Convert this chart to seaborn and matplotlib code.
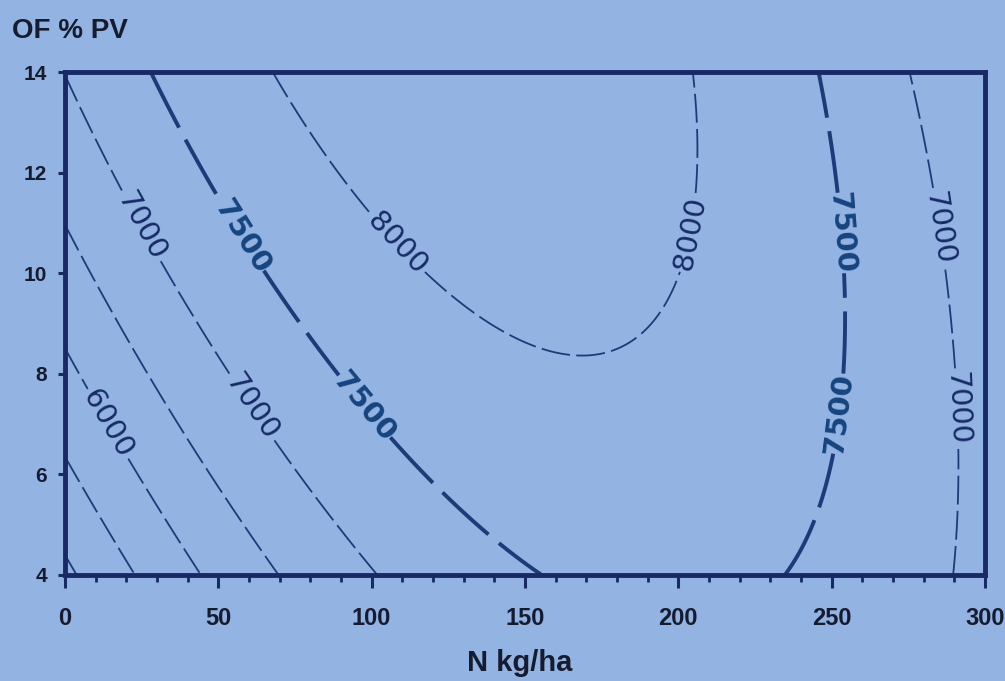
import numpy as np
import pandas as pd
import matplotlib
matplotlib.use("Agg")
import matplotlib.pyplot as plt
import seaborn as sns

# ---- values (N kg/ha, OF % PV) on each yield contour ----
levels = [5000, 5500, 6000, 6500, 7000, 7500, 8000]

l8000_n = [68, 81, 97, 110, 123, 139, 148, 166.5, 185, 196, 204, 206, 205.5]
l8000_f = [14, 12.8, 11.5, 10.7, 9.9, 9.2, 8.9, 8.57, 8.9, 9.67, 10.8, 12.1, 14]

l7500_n = [28.5, 37.7, 57, 75, 80, 96.7, 104, 112, 120.6, 126, 141.6, 156.7,
           233.4, 246.5, 248.5, 253, 256, 256, 253, 251, 247.5]
l7500_f = [13.9, 12.8, 10.7, 9.2, 8.8, 7.3, 6.7, 6.35, 5.85, 5.5, 4.75, 4.0,
           4.0, 5.35, 5.75, 7.2, 8.8, 9.1, 10.8, 12.9, 14]

l7000_n = [0, 10.5, 15.7, 23.6, 37.7, 45, 60, 73, 82.6, 87, 100.6,
           290, 291, 289, 290, 289, 284.6, 282.6, 277]
l7000_f = [14, 12.65, 12, 10.9, 9.5, 8.8, 7.3, 6.35, 5.5, 5.1, 4,
           4, 5.35, 7.3, 9.1, 9.5, 10.9, 12.25, 14]

l6500_n = [0, 15.7, 19.7, 37.7, 42.6, 48.5, 52, 68, 298, 300]
l6500_f = [10.9, 9.1, 8.8, 6.9, 6.4, 5.85, 5.5, 4, 14, 13.6]

l6000_n = [0, 5.5, 12.5, 24.6, 28.5, 38, 43.6]
l6000_f = [8.57, 8.0, 6.95, 5.85, 5.5, 4.55, 4.1]

l5500_n = [0.6, 5.5, 8.2, 22.3]
l5500_f = [6.4, 5.85, 5.5, 4.1]

l5000_n = [0, 4]
l5000_f = [4.44, 4]

x_ticks = [0, 50, 100, 150, 200, 250, 300]
y_ticks = [4, 6, 8, 10, 12, 14]
x_title = "N kg/ha"
y_title = "OF % PV"

# label anchor points (where the reference prints the contour values)
label_pos = [(23.6, 10.9), (60, 7.3), (57, 10.7), (96.7, 7.3), (110, 10.7),
             (204, 10.8), (253, 10.8), (253, 7.2), (284.6, 10.9), (289, 7.3),
             (12.5, 6.95)]

# ---- assemble traced points and fit a polynomial response surface ----
traced = pd.concat([
    pd.DataFrame({"N": n, "OF": f, "Y": lv})
    for lv, n, f in [(8000, l8000_n, l8000_f), (7500, l7500_n, l7500_f),
                     (7000, l7000_n, l7000_f), (6500, l6500_n, l6500_f),
                     (6000, l6000_n, l6000_f), (5500, l5500_n, l5500_f),
                     (5000, l5000_n, l5000_f)]
], ignore_index=True)

def design(n, f):
    n = np.asarray(n, dtype=float) / 100.0 - 1.5
    f = np.asarray(f, dtype=float) / 5.0 - 1.8
    return np.column_stack([np.ones_like(n), n, n**2, f, f**2, n * f,
                            n**3, n**2 * f, n * f**2, f**3])

coef, *_ = np.linalg.lstsq(design(traced.N, traced.OF), traced.Y, rcond=None)

gn, gf = np.meshgrid(np.linspace(0, 300, 301), np.linspace(4, 14, 201))
gz = (design(gn.ravel(), gf.ravel()) @ coef).reshape(gn.shape)

# ---- style ----
bg = "#93b3e3"
ink = "#172a66"
line_col = "#1d3b78"
txt = "#161c30"
sns.set_theme(style="ticks")
plt.rcParams["font.family"] = ["Liberation Sans", "DejaVu Sans"]

fig = plt.figure(figsize=(10.05, 6.81), dpi=100, facecolor=bg)
ax = fig.add_axes([0.0647, 0.156, 0.9153, 0.738], facecolor=bg)

lws = [2.8 if lv == 7500 else 1.3 for lv in levels]
cs = ax.contour(gn, gf, gz, levels=levels, colors=line_col, linewidths=lws)
cs.set_linestyle((0, (16, 3.5)))

texts = ax.clabel(cs, manual=label_pos, inline=True,
                  inline_spacing=8, fmt="%d", fontsize=21, colors=ink)
for t in texts:
    t.set_family("DejaVu Sans")
    if t.get_text() == "7500":
        t.set_fontweight("bold")
        t.set_color("#15447f")

ax.set_xlim(0, 300)
ax.set_ylim(4, 14)
ax.set_xticks(x_ticks)
ax.set_xticks(np.arange(0, 301, 10), minor=True)
ax.set_yticks(y_ticks)
ax.set_xticklabels([str(v) for v in x_ticks])
ax.set_yticklabels([str(v) for v in y_ticks])

for s in ax.spines.values():
    s.set_visible(True)
    s.set_linewidth(3.5)
    s.set_color(ink)

ax.tick_params(axis="x", which="major", direction="out", length=9, width=2.2,
               color=ink, pad=14, labelsize=17, labelcolor=txt)
ax.tick_params(axis="x", which="minor", direction="out", length=5, width=2.0, color=ink)
ax.tick_params(axis="y", which="major", direction="out", length=5, width=2.2,
               color=ink, pad=8, labelsize=15, labelcolor=txt)
for lab in ax.get_xticklabels() + ax.get_yticklabels():
    lab.set_fontweight("bold")

fig.text(0.517, 0.027, x_title, ha="center", va="center", fontsize=21,
         fontweight="bold", color=txt)
fig.text(0.012, 0.955, y_title, ha="left", va="center", fontsize=20,
         fontweight="bold", color=txt)

fig.savefig("out.png", dpi=100, facecolor=bg)
